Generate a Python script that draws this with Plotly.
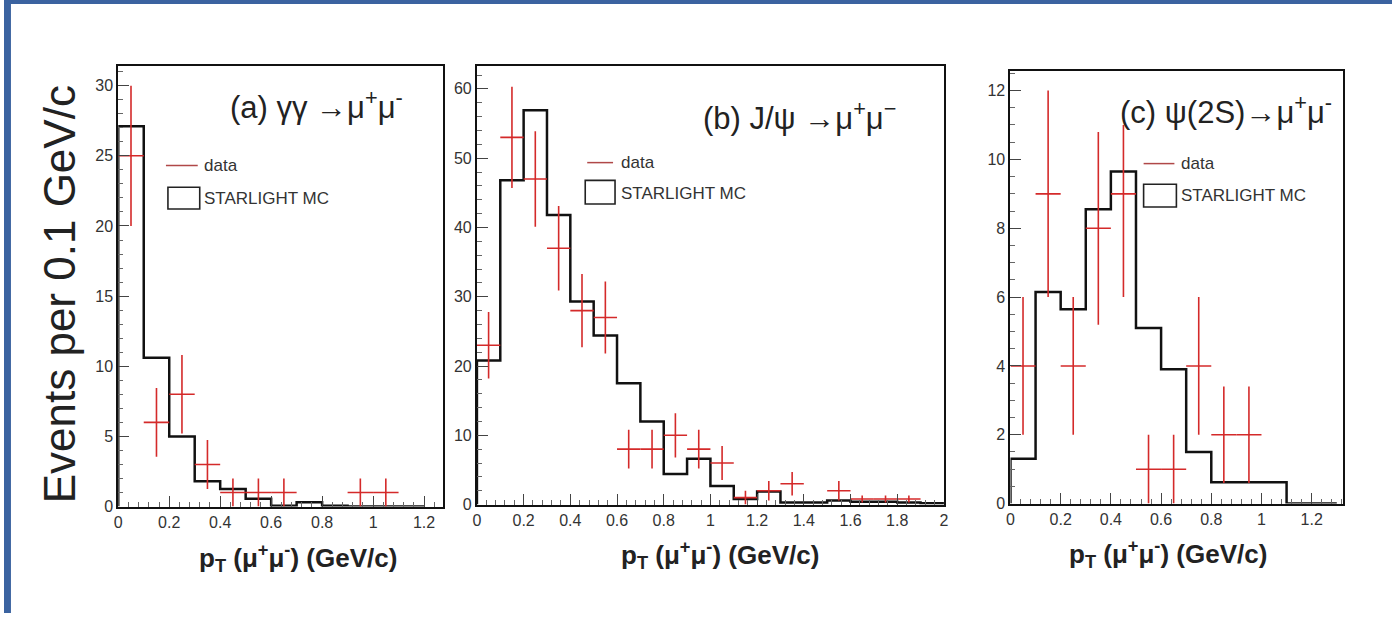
import plotly.graph_objects as go

W, H = 1397, 622

# ---------------- data ----------------
# panel (a) gamma gamma -> mu+ mu-
a_centers = [0.05, 0.15, 0.25, 0.35, 0.45, 0.55, 0.65, 0.95, 1.05]
a_data = [25, 6, 8, 3, 1, 1, 1, 1, 1]
a_err_up = [5.0, 2.45, 2.8, 1.75, 1.0, 1.0, 1.0, 1.0, 1.0]
a_err_dn = [5.0, 2.45, 2.8, 1.75, 1.0, 1.0, 1.0, 1.0, 1.0]
a_edges = [0.0, 0.1, 0.2, 0.3, 0.4, 0.5, 0.6, 0.7, 0.8, 0.9, 1.0, 1.1, 1.2]
a_mc = [27.1, 10.6, 5.0, 1.8, 1.25, 0.55, 0.05, 0.3, 0.05, 0.0, 0.0, 0.0]

# panel (b) J/psi -> mu+ mu-
b_centers = [0.05, 0.15, 0.25, 0.35, 0.45, 0.55, 0.65, 0.75, 0.85, 0.95,
             1.05, 1.15, 1.25, 1.35, 1.55, 1.65, 1.75, 1.85]
b_data = [23, 53, 47, 37, 28, 27, 8, 8, 10, 8, 6, 1, 2, 3, 2, 0.8, 0.8, 0.8]
b_err_up = [4.8, 7.3, 6.9, 6.1, 5.3, 5.2, 2.8, 2.8, 3.2, 2.8, 2.45, 1.0, 1.4, 1.7, 1.4, 0.5, 0.5, 0.5]
b_err_dn = [4.8, 7.3, 6.9, 6.1, 5.3, 5.2, 2.8, 2.8, 3.2, 2.8, 2.45, 1.0, 1.4, 1.7, 1.4, 0.5, 0.5, 0.5]
b_edges = [0.0, 0.1, 0.2, 0.3, 0.4, 0.5, 0.6, 0.7, 0.8, 0.9, 1.0,
           1.1, 1.2, 1.3, 1.4, 1.5, 1.6, 1.7, 1.8, 1.9, 2.0]
b_mc = [20.8, 46.8, 56.9, 41.8, 29.3, 24.4, 17.5, 12.0, 4.4, 6.6,
        2.7, 0.8, 1.9, 0.3, 0.3, 0.6, 0.4, 0.4, 0.3, 0.2]

# panel (c) psi(2S) -> mu+ mu-
c_centers = [0.05, 0.15, 0.25, 0.35, 0.45, 0.55, 0.65, 0.75, 0.85, 0.95]
c_data = [4, 9, 4, 8, 9, 1, 1, 4, 2, 2]
c_err_up = [2.0, 3.0, 2.0, 2.8, 2.0, 1.0, 1.0, 2.0, 1.4, 1.4]
c_err_dn = [2.0, 3.0, 2.0, 2.8, 3.0, 1.0, 1.0, 2.0, 1.4, 1.4]
c_edges = [0.0, 0.1, 0.2, 0.3, 0.4, 0.5, 0.6, 0.7, 0.8, 0.9, 1.0, 1.1, 1.2, 1.3]
c_mc = [1.3, 6.15, 5.65, 8.55, 9.65, 5.1, 3.9, 1.5, 0.62, 0.62, 0.62, 0.0, 0.0]

x_title = "<b>p<sub>T</sub> (μ<sup>+</sup>μ<sup>-</sup>) (GeV/c)</b>"
y_title = "Events per 0.1 GeV/c"
panel_titles = ["(a) γγ →μ<sup>+</sup>μ<sup>-</sup>",
                "(b) J/ψ →μ<sup>+</sup>μ<sup>−</sup>",
                "(c) ψ(2S)→μ<sup>+</sup>μ<sup>-</sup>"]
legend_labels = ["data", "STARLIGHT MC"]

RED = "#d42a2a"
FONT = "Liberation Sans, Arial, sans-serif"


def px(x):
    return x / W


def py(y):
    return 1 - y / H


fig = go.Figure()

panels = [
    (a_centers, a_data, a_err_up, a_err_dn, a_edges, a_mc),
    (b_centers, b_data, b_err_up, b_err_dn, b_edges, b_mc),
    (c_centers, c_data, c_err_up, c_err_dn, c_edges, c_mc),
]
for i, (cen, dat, eu, ed, edges, mc) in enumerate(panels):
    sx = "" if i == 0 else str(i + 1)
    # MC step histogram
    hx = [edges[0]] + list(edges)
    hy = [0] + list(mc) + [0]
    fig.add_trace(go.Scatter(x=hx, y=hy, mode="lines", line_shape="hv",
                             line=dict(color="#111111", width=2.5),
                             xaxis="x" + sx, yaxis="y" + sx, showlegend=False,
                             hoverinfo="skip"))
    # data crosses
    fig.add_trace(go.Scatter(x=cen, y=dat, mode="markers",
                             marker=dict(size=1, color=RED),
                             error_y=dict(type="data", symmetric=False, array=eu, arrayminus=ed,
                                          color=RED, thickness=1.6, width=0),
                             error_x=dict(type="constant", value=0.05, color=RED,
                                          thickness=1.6, width=0),
                             xaxis="x" + sx, yaxis="y" + sx, showlegend=False))

axis_common = dict(showline=True, linecolor="#111111", linewidth=2, mirror=True,
                   ticks="inside", ticklen=11, tickwidth=1.2, tickcolor="#444444",
                   showgrid=False, zeroline=False,
                   tickfont=dict(family=FONT, size=16, color="#333333"),
                   minor=dict(ticks="inside", ticklen=5, tickwidth=1, tickcolor="#666666",
                              showgrid=False))

layout = dict(width=W, height=H, margin=dict(l=0, r=0, t=0, b=0, pad=0),
              paper_bgcolor="white", plot_bgcolor="white", showlegend=False)

# panel geometry (pixel)
geo = [
    dict(x0=115, x1=442, y0=514, y1=67, xr=[0, 1.275], yr=[0, 31.4], ydt=5, ymin=1),
    dict(x0=476, x1=946, y0=512, y1=67, xr=[0, 2.0], yr=[0, 63.3], ydt=10, ymin=2),
    dict(x0=1013, x1=1348, y0=511, y1=72, xr=[0, 1.326], yr=[0, 12.57], ydt=2, ymin=0.5),
]
for i, g in enumerate(geo):
    sx = "" if i == 0 else str(i + 1)
    xa = dict(axis_common)
    xa.update(domain=[px(g["x0"]), px(g["x1"])], range=g["xr"], anchor="y" + sx,
              dtick=0.2, tick0=0)
    xa["minor"] = dict(axis_common["minor"], dtick=0.04)
    ya = dict(axis_common)
    ya.update(domain=[py(g["y0"]), py(g["y1"])], range=g["yr"], anchor="x" + sx,
              dtick=g["ydt"], tick0=0)
    ya["minor"] = dict(axis_common["minor"], dtick=g["ymin"])
    layout["xaxis" + sx] = xa
    layout["yaxis" + sx] = ya

fig.update_layout(**layout)

ann = []
shapes = []
# blue frame
shapes.append(dict(type="rect", xref="paper", yref="paper", x0=0, x1=px(7), y0=0, y1=1,
                   fillcolor="#3b63a0", line=dict(width=0), layer="above"))
shapes.append(dict(type="rect", xref="paper", yref="paper", x0=0, x1=1, y0=py(4), y1=1,
                   fillcolor="#3b63a0", line=dict(width=0), layer="above"))

# y title
ann.append(dict(text=y_title, x=px(56), y=py(299), xref="paper", yref="paper",
                textangle=-90, showarrow=False, xanchor="center", yanchor="middle",
                font=dict(family=FONT, size=44, color="#222222")))

# x titles
for (cx, cy) in [(296, 566), (721, 563), (1172, 562)]:
    ann.append(dict(text=x_title, x=px(cx), y=py(cy), xref="paper", yref="paper",
                    showarrow=False, xanchor="center", yanchor="middle",
                    font=dict(family=FONT, size=26, color="#222222")))

# panel titles
for t, (cx, cy) in zip(panel_titles, [(315, 107), (801, 118), (1230, 112)]):
    ann.append(dict(text=t, x=px(cx), y=py(cy), xref="paper", yref="paper",
                    showarrow=False, xanchor="center", yanchor="middle",
                    font=dict(family=FONT, size=31, color="#222222")))

# legends: (line x0,x1,y), (box x0,x1,y0,y1), text x, text y data, text y mc
legs = [
    ((163, 195, 168), (165, 197, 190, 212), 199, 168, 201),
    ((587, 613, 165), (585, 615, 183, 207), 619, 165, 196),
    ((1147, 1178, 166), (1147, 1180, 187, 210), 1183, 166, 198),
]
for (lx0, lx1, ly), (bx0, bx1, by0, by1), tx, ty1, ty2 in legs:
    shapes.append(dict(type="line", xref="paper", yref="paper", x0=px(lx0), x1=px(lx1),
                       y0=py(ly), y1=py(ly), line=dict(color="#b04848", width=1.5)))
    shapes.append(dict(type="rect", xref="paper", yref="paper", x0=px(bx0), x1=px(bx1),
                       y0=py(by1), y1=py(by0), line=dict(color="#222222", width=1.6)))
    ann.append(dict(text=legend_labels[0], x=px(tx), y=py(ty1), xref="paper", yref="paper",
                    showarrow=False, xanchor="left", yanchor="middle",
                    font=dict(family=FONT, size=17, color="#333333")))
    ann.append(dict(text=legend_labels[1], x=px(tx), y=py(ty2), xref="paper", yref="paper",
                    showarrow=False, xanchor="left", yanchor="middle",
                    font=dict(family=FONT, size=17, color="#333333")))

fig.update_layout(annotations=ann, shapes=shapes)
fig.write_html("out.html")
